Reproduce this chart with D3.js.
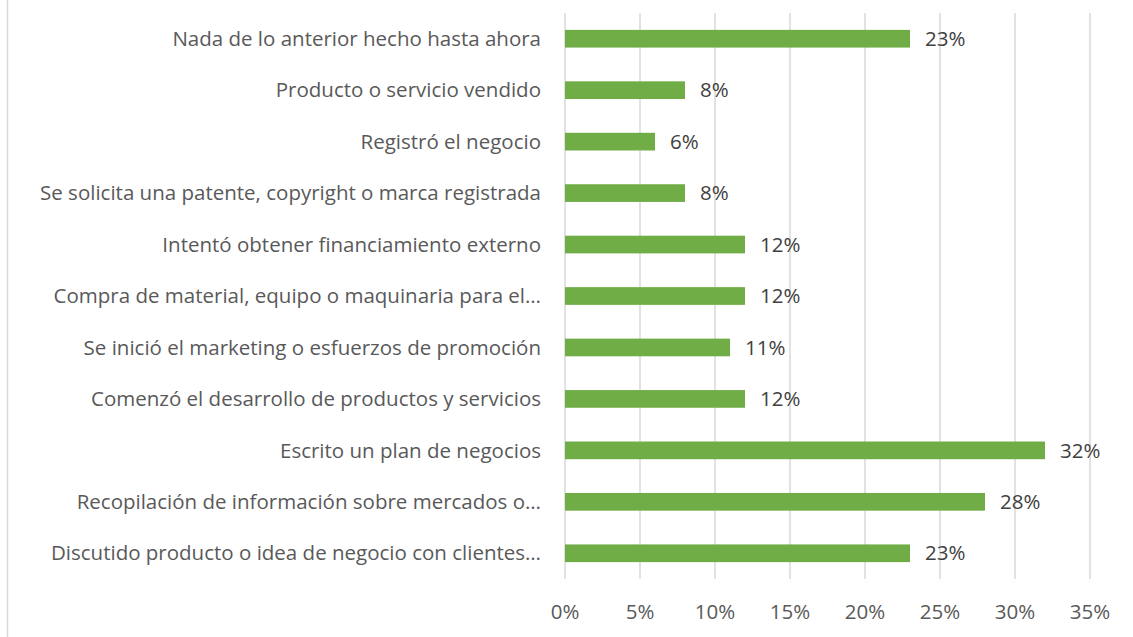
<!DOCTYPE html>
<html>
<head>
<meta charset="utf-8">
<script src="https://cdn.jsdelivr.net/npm/d3@7"></script>
<style>
  body { margin: 0; background: #fff; }
  text { font-family: "Open Sans", sans-serif; }
</style>
</head>
<body>
<script>
// categories top to bottom
const categories = [
    "Nada de lo anterior hecho hasta ahora",
    "Producto o servicio vendido",
    "Registró el negocio",
    "Se solicita una patente, copyright o marca registrada",
    "Intentó obtener financiamiento externo",
    "Compra de material, equipo o maquinaria para el…",
    "Se inició el marketing o esfuerzos de promoción",
    "Comenzó el desarrollo de productos y servicios",
    "Escrito un plan de negocios",
    "Recopilación de información sobre mercados o…",
    "Discutido producto o idea de negocio con clientes…"
];
const values = [0.23, 0.08, 0.06, 0.08, 0.12, 0.12, 0.11, 0.12, 0.32, 0.28, 0.23];
const ticks = [0, 0.05, 0.10, 0.15, 0.20, 0.25, 0.30, 0.35];

const data = categories.map((c, i) => ({ name: c, value: values[i] }));

const svg = d3.select("body").append("svg")
    .attr("width", 1133)
    .attr("height", 637);

// chart border (only left edge visible)
svg.append("rect")
    .attr("x", 7.5).attr("y", -2)
    .attr("width", 1140).attr("height", 645)
    .attr("fill", "none")
    .attr("stroke", "#d9d9d9")
    .attr("stroke-width", 1.5);

const xScale = d3.scaleLinear()
    .domain([0, 0.35])
    .range([565, 1090]);

const yScale = d3.scaleBand()
    .domain(categories)
    .range([13, 579])
    .paddingInner(0.656)
    .paddingOuter(0.328);

//gridlines
svg.selectAll("line.grid")
    .data(ticks)
    .enter()
    .append("line")
    .attr("class", "grid")
    .attr("x1", d => xScale(d)).attr("x2", d => xScale(d))
    .attr("y1", 13).attr("y2", 579)
    .attr("stroke", "#d9d9d9")
    .attr("stroke-width", 1.5);

//tick labels
svg.selectAll("text.tick")
    .data(ticks)
    .enter()
    .append("text")
    .attr("class", "tick")
    .attr("x", d => xScale(d))
    .attr("y", 612)
    .attr("dy", "0.35em")
    .attr("text-anchor", "middle")
    .attr("font-size", 20.5)
    .attr("fill", "#595959")
    .text(d3.format(".0%"));

//bars
svg.selectAll("rect.bar")
    .data(data)
    .enter()
    .append("rect")
    .attr("class", "bar")
    .attr("x", xScale(0))
    .attr("y", d => yScale(d.name))
    .attr("width", d => xScale(d.value) - xScale(0))
    .attr("height", yScale.bandwidth())
    .attr("fill", "#70ad47");

//category labels
svg.selectAll("text.cat")
    .data(data)
    .enter()
    .append("text")
    .attr("class", "cat")
    .attr("x", 541)
    .attr("y", d => yScale(d.name) + yScale.bandwidth() / 2)
    .attr("dy", "0.35em")
    .attr("text-anchor", "end")
    .attr("font-size", 20.5)
    .attr("fill", "#595959")
    .text(d => d.name);

//value labels
svg.selectAll("text.val")
    .data(data)
    .enter()
    .append("text")
    .attr("class", "val")
    .attr("x", d => xScale(d.value) + 15)
    .attr("y", d => yScale(d.name) + yScale.bandwidth() / 2)
    .attr("dy", "0.35em")
    .attr("font-size", 20.5)
    .attr("fill", "#404040")
    .text(d => d3.format(".0%")(d.value));
</script>
</body>
</html>
